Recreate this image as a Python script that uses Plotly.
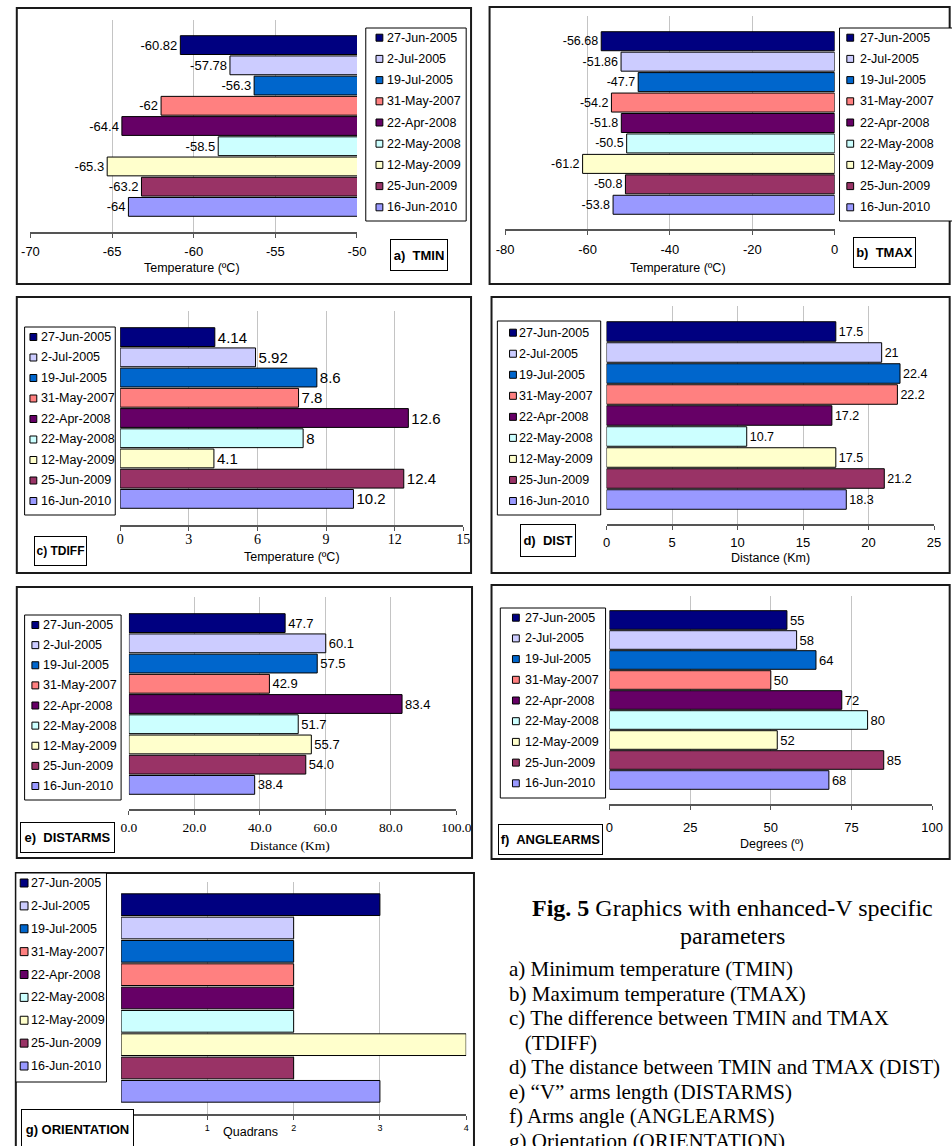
import plotly.graph_objects as go

W, H = 952, 1146
SANS = "Liberation Sans, Arial, sans-serif"
SERIF = "Liberation Serif, Times New Roman, serif"

# ---------------- data ----------------
dates = ["27-Jun-2005", "2-Jul-2005", "19-Jul-2005", "31-May-2007", "22-Apr-2008",
         "22-May-2008", "12-May-2009", "25-Jun-2009", "16-Jun-2010"]
colors = ["#000080", "#CCCCFF", "#0066CC", "#FF8080", "#660066",
          "#CCFFFF", "#FFFFCC", "#993366", "#9999FF"]

tmin = [-60.82, -57.78, -56.3, -62, -64.4, -58.5, -65.3, -63.2, -64]
tmax = [-56.68, -51.86, -47.7, -54.2, -51.8, -50.5, -61.2, -50.8, -53.8]
tdiff = [4.14, 5.92, 8.6, 7.8, 12.6, 8, 4.1, 12.4, 10.2]
dist = [17.5, 21, 22.4, 22.2, 17.2, 10.7, 17.5, 21.2, 18.3]
distarms = [47.7, 60.1, 57.5, 42.9, 83.4, 51.7, 55.7, 54.0, 38.4]
anglearms = [55, 58, 64, 50, 72, 80, 52, 85, 68]
orientation = [3, 2, 2, 2, 2, 2, 4, 2, 3]

ticks_a = [-70, -65, -60, -55, -50]
ticks_b = [-80, -60, -40, -20, 0]
ticks_c = [0, 3, 6, 9, 12, 15]
ticks_d = [0, 5, 10, 15, 20, 25]
ticks_e = [0, 20, 40, 60, 80, 100]
ticks_f = [0, 25, 50, 75, 100]
ticks_g = [0, 1, 2, 3, 4]

labels_a = ["-70", "-65", "-60", "-55", "-50"]
labels_b = ["-80", "-60", "-40", "-20", "0"]
labels_c = ["0", "3", "6", "9", "12", "15"]
labels_d = ["0", "5", "10", "15", "20", "25"]
labels_e = ["0.0", "20.0", "40.0", "60.0", "80.0", "100.0"]
labels_f = ["0", "25", "50", "75", "100"]
labels_g = ["", "1", "2", "3", "4"]   # the "0" is hidden behind the panel label box

panel_labels = ["a)\u00a0 TMIN", "b)\u00a0 TMAX", "c) TDIFF", "d)\u00a0 DIST",
                "e)\u00a0 DISTARMS", "f)\u00a0 ANGLEARMS", "g) ORIENTATION"]
axis_titles = ["Temperature (ºC)", "Temperature (ºC)", "Temperature (ºC)", "Distance (Km)",
               "Distance (Km)", "Degrees (º)", "Quadrans"]

caption_title = "<b>Fig. 5</b> Graphics with enhanced-V specific"
caption_title2 = "parameters"
caption_items = ["a) Minimum temperature (TMIN)",
                 "b) Maximum temperature (TMAX)",
                 "c) The difference between TMIN and TMAX",
                 "\u00a0\u00a0\u00a0(TDIFF)",
                 "d) The distance between TMIN and TMAX (DIST)",
                 "e) \u201cV\u201d arms length (DISTARMS)",
                 "f) Arms angle (ANGLEARMS)",
                 "g) Orientation (ORIENTATION)"]

# ---------------- layout geometry (pixels) ----------------
panels = [
    dict(vals=tmin, ticks=ticks_a, tlab=labels_a, tfam=SANS, tsize=13, std=3,
         plot=(22, 357, 20, 232), bars=(35, 217), txt=13, dec=None,
         leg=(366, 28, 469, 221, 37.7, 207.3, 14, 22), outer=(8, 8, 474, 284),
         lab=(392, 239, 450, 271, 13), ttl=(188, 268, SANS, 12.5)),
    dict(vals=tmax, ticks=ticks_b, tlab=labels_b, tfam=SANS, tsize=13, std=4,
         plot=(509, 847, 16, 229), bars=(31, 215), txt=12.5, dec=None,
         leg=(852, 28, 970, 221, 37.7, 207.3, 11, 21), outer=(493, 7, 965, 284),
         lab=(867, 237, 930, 268, 13), ttl=(686, 268, SANS, 12.5)),
    dict(vals=tdiff, ticks=ticks_c, tlab=labels_c, tfam=SERIF, tsize=14, std=-4,
         plot=(114, 466, 311, 525), bars=(327, 509), txt=15, dec=None,
         leg=(16, 327, 109, 515, 337, 501, 9, 17), outer=(8, 297, 474, 573),
         lab=(26, 536, 79, 566, 12), ttl=(290, 557, SANS, 12.5)),
    dict(vals=dist, ticks=ticks_d, tlab=labels_d, tfam=SANS, tsize=13, std=2,
         plot=(613, 949, 306, 524), bars=(321, 510), txt=12.5, dec=None,
         leg=(501, 321, 607, 515, 332.7, 501, 16, 22), outer=(495, 297, 965, 573),
         lab=(525, 524, 581, 557, 13), ttl=(781, 558, SANS, 12.5)),
    dict(vals=distarms, ticks=ticks_e, tlab=labels_e, tfam=SERIF, tsize=13.5, std=1,
         plot=(123, 459, 597, 809), bars=(613, 795), txt=13, dec=1,
         leg=(16, 615, 115, 800, 625, 786, 11, 19), outer=(8, 587, 475, 858),
         lab=(12, 822, 107, 853, 13), ttl=(288, 845, SERIF, 13.5)),
    dict(vals=anglearms, ticks=ticks_f, tlab=labels_f, tfam=SANS, tsize=13, std=7,
         plot=(616, 947, 596, 804), bars=(610, 790), txt=13, dec=None,
         leg=(504, 608, 612, 798, 617.7, 783.3, 16, 25), outer=(495, 585, 965, 859),
         lab=(503, 824, 608, 855, 13), ttl=(783, 844, SANS, 12.5)),
    dict(vals=orientation, ticks=ticks_g, tlab=labels_g, tfam=SANS, tsize=9, std=0,
         plot=(115, 469, 882, 1114), bars=(893, 1103), txt=None, dec=None,
         leg=(7, 873, 100, 1082, 883, 1066, 8.5, 16), outer=(7, 873, 477, 1160),
         lab=(14, 1109, 127, 1150, 13), ttl=(248, 1132, SANS, 12.5)),
]


def fx(p):
    return p / W


def fy(p):
    return 1 - p / H


fig = go.Figure()
shapes = []
annotations = []
layout_axes = {}

for i, P in enumerate(panels, start=1):
    xname = "x" if i == 1 else f"x{i}"
    yname = "y" if i == 1 else f"y{i}"
    x0, x1, T, B = P["plot"]
    bt, bb = P["bars"]
    s = (bb - bt) / len(dates)
    c0 = bt + s / 2
    cN = bb - s / 2
    ytop = -(c0 - T) / s
    ybot = (len(dates) - 1) + (B - cN) / s

    for d, c, v in zip(dates, colors, P["vals"]):
        kw = {}
        if P["txt"] is not None:
            label = f"{v:.{P['dec']}f}" if P["dec"] is not None else f"{v:g}"
            kw = dict(text=[label], texttemplate="%{text}", textposition="outside",
                      textfont=dict(family=SANS, size=P["txt"], color="#000"),
                      constraintext="none")
        fig.add_trace(go.Bar(
            x=[v], y=[d], orientation="h", xaxis=xname, yaxis=yname, name=d,
            width=0.93, marker=dict(color=c, line=dict(color="#000", width=1)),
            showlegend=False, hoverinfo="x+name", **kw))

    tvals = P["ticks"]
    xkey = "xaxis" if i == 1 else f"xaxis{i}"
    ykey = "yaxis" if i == 1 else f"yaxis{i}"
    layout_axes[xkey] = dict(
        domain=[fx(x0), fx(x1)], anchor=yname, range=[tvals[0], tvals[-1]],
        tickmode="array", tickvals=tvals, ticktext=P["tlab"],
        showgrid=True, gridcolor="#c4c4c4",
        gridwidth=1, zeroline=False, showline=True, linecolor="#555", linewidth=1.5,
        ticks="outside", ticklen=4, tickcolor="#555", tickwidth=1,
        ticklabelstandoff=P["std"],
        tickfont=dict(family=P["tfam"], size=P["tsize"], color="#000"),
        fixedrange=True)
    layout_axes[ykey] = dict(
        domain=[fy(B), fy(T)], anchor=xname, type="category",
        categoryorder="array", categoryarray=dates, range=[ybot, ytop],
        visible=False, showgrid=False, fixedrange=True)

    # outer panel frame
    ox0, oy0, ox1, oy1 = P["outer"]
    shapes.append(dict(type="rect", xref="paper", yref="paper", x0=fx(ox0), x1=fx(ox1),
                       y0=fy(oy1), y1=fy(oy0), line=dict(color="#1a1a1a", width=2),
                       layer="above"))

    # legend box
    lx0, ly0, lx1, ly1, f0, fN, sqo, txo = P["leg"]
    shapes.append(dict(type="rect", xref="paper", yref="paper", x0=fx(lx0), x1=fx(lx1),
                       y0=fy(ly1), y1=fy(ly0), line=dict(color="#000", width=1),
                       fillcolor="white", layer="above"))
    step = (fN - f0) / (len(dates) - 1)
    sq = 4 if i == 7 else 3.5
    for k, (d, c) in enumerate(zip(dates, colors)):
        yc = f0 + k * step
        shapes.append(dict(type="rect", xref="paper", yref="paper",
                           x0=fx(lx0 + sqo - sq), x1=fx(lx0 + sqo + sq),
                           y0=fy(yc + sq), y1=fy(yc - sq),
                           line=dict(color="#000", width=1), fillcolor=c, layer="above"))
        annotations.append(dict(xref="paper", yref="paper", x=fx(lx0 + txo - 2), y=fy(yc),
                                xanchor="left", yanchor="middle", text=d, showarrow=False,
                                font=dict(family=SANS, size=12.5, color="#000")))

    # panel label box
    bx0, by0, bx1, by1, bfs = P["lab"]
    annotations.append(dict(xref="paper", yref="paper", x=fx((bx0 + bx1) / 2),
                            y=fy((by0 + by1) / 2), xanchor="center", yanchor="middle",
                            text=f"<b>{panel_labels[i - 1]}</b>", showarrow=False,
                            width=bx1 - bx0 - 4, height=by1 - by0 - 4, borderpad=1,
                            bordercolor="#000", borderwidth=1, bgcolor="white",
                            font=dict(family=SANS, size=bfs, color="#000")))

    # axis title
    tx, ty, tfam, tsz = P["ttl"]
    annotations.append(dict(xref="paper", yref="paper", x=fx(tx), y=fy(ty),
                            xanchor="center", yanchor="middle", text=axis_titles[i - 1],
                            showarrow=False, font=dict(family=tfam, size=tsz, color="#000")))

# caption
annotations.append(dict(xref="paper", yref="paper", x=fx(742), y=fy(908), xanchor="center",
                        yanchor="middle", text=caption_title, showarrow=False,
                        font=dict(family=SERIF, size=24, color="#000")))
annotations.append(dict(xref="paper", yref="paper", x=fx(742), y=fy(936), xanchor="center",
                        yanchor="middle", text=caption_title2, showarrow=False,
                        font=dict(family=SERIF, size=24, color="#000")))
item_y = [969, 994, 1018, 1043, 1067, 1092, 1116, 1141]
for t, yy in zip(caption_items, item_y):
    annotations.append(dict(xref="paper", yref="paper", x=fx(511), y=fy(yy), xanchor="left",
                            yanchor="middle", text=t, showarrow=False,
                            font=dict(family=SERIF, size=21, color="#000")))

fig.update_layout(
    width=W, height=H, margin=dict(l=0, r=0, t=0, b=0, pad=0),
    paper_bgcolor="white", plot_bgcolor="white", barmode="overlay",
    showlegend=False, font=dict(family=SANS, color="#000"),
    shapes=shapes, annotations=annotations, **layout_axes)

fig.write_html("out.html", config={"displayModeBar": False},
               post_script="document.body.style.margin='0px';")
